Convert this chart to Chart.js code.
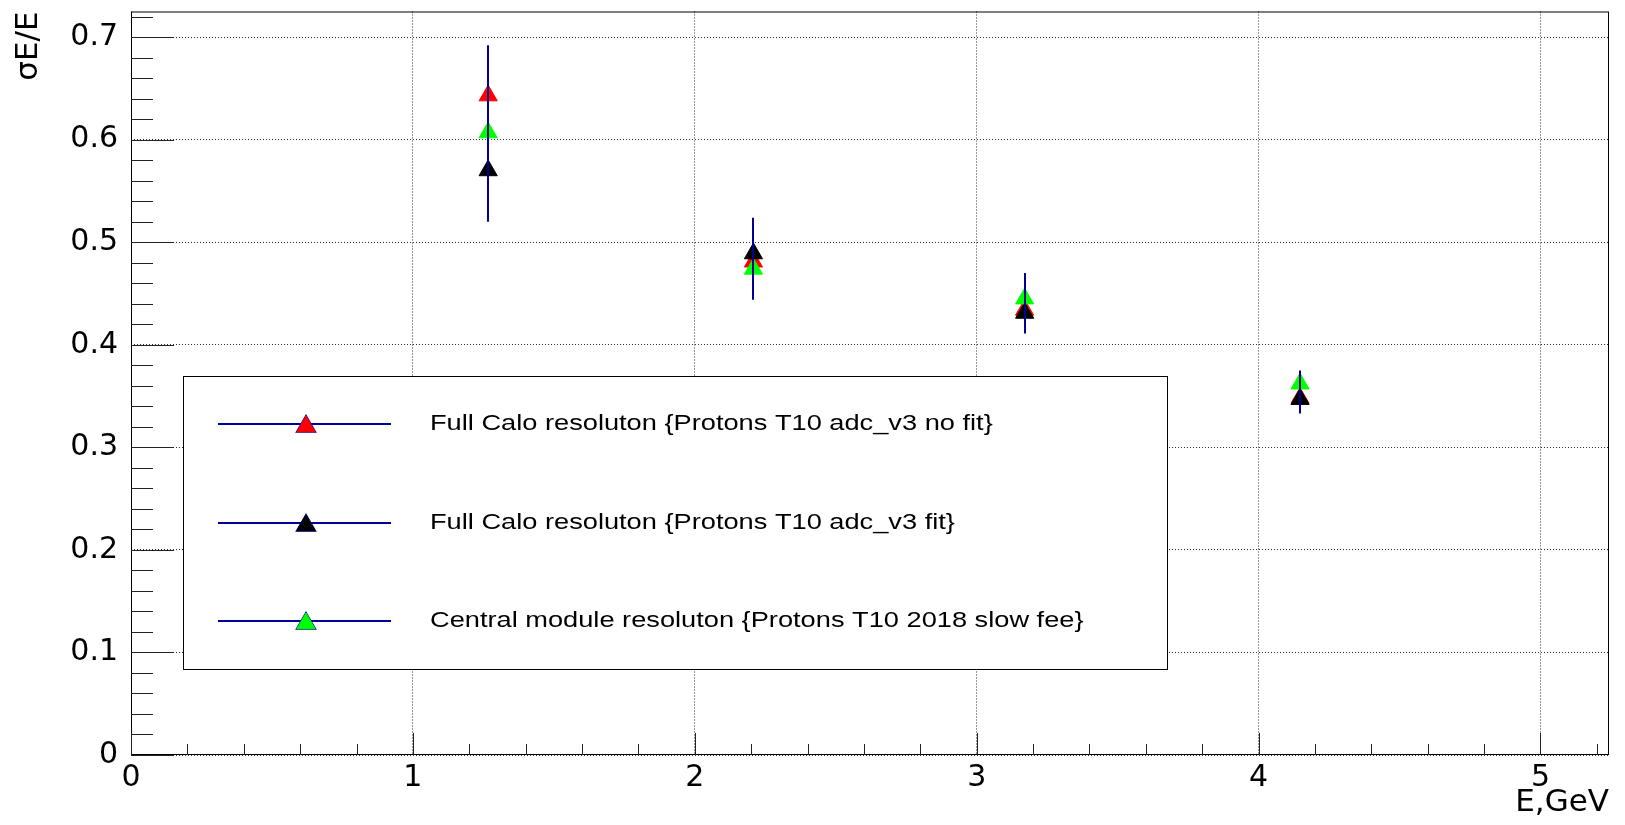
<!DOCTYPE html>
<html>
<head>
<meta charset="utf-8">
<script src="https://cdn.jsdelivr.net/npm/chart.js@4/dist/chart.umd.min.js"></script>
<style>
    html, body { margin: 0; padding: 0; background: #fff; }
    #wrap { width: 1625px; height: 825px; position: relative; }
</style>
</head>
<body>
<div id="wrap"><canvas id="resChart"></canvas></div>
<script>
// beam energies (GeV)
const energy = [1.267, 2.208, 3.17, 4.147];

// Full Calo, adc_v3, no fit
const noFitRes = [0.643, 0.481, 0.434, 0.348];
const noFitErr = [0.048, 0.012, 0.012, 0.006];

// Full Calo, adc_v3, fit
const fitRes = [0.570, 0.489, 0.431, 0.347];
const fitErr = [0.050, 0.035, 0.020, 0.014];

// Central module, 2018 slow fee
const centralRes = [0.607, 0.474, 0.445, 0.362];
const centralErr = [0.085, 0.030, 0.025, 0.013];

const seriesLabels = [
    'Full Calo resoluton {Protons T10 adc_v3 no fit}',
    'Full Calo resoluton {Protons T10 adc_v3 fit}',
    'Central module resoluton {Protons T10 2018 slow fee}'
];
const xTicks = [0, 1, 2, 3, 4, 5];
const yTicks = [0, 0.1, 0.2, 0.3, 0.4, 0.5, 0.6, 0.7];

const ERR_COLOR = '#000099';
const AXIS_FONT = '"DejaVu Sans", "Liberation Sans", Arial, sans-serif';
const LEG_FONT = '"Liberation Sans", Arial, Helvetica, sans-serif';
Chart.defaults.font.family = AXIS_FONT;
Chart.defaults.color = '#000';

function toPoints(xs, ys) {
    return xs.map((x, i) => ({ x: x, y: ys[i] }));
}

const seriesErrors = [noFitErr, fitErr, centralErr];

function makeSet(label, values, color, order) {
    return {
        label: label,
        data: toPoints(energy, values),
        pointStyle: 'triangle',
        pointRadius: 10.5,
        pointHoverRadius: 10.5,
        backgroundColor: color,
        borderColor: color,
        borderWidth: 1,
        showLine: false,
        order: order
    };
}

// ROOT style frame, inner ticks, error bars and legend
const frameTicks = {
    id: 'frameTicks',
    afterDatasetsDraw(chart) {
        const ctx = chart.ctx;
        const xs = chart.scales.x;
        const ys = chart.scales.y;
        const area = chart.chartArea;

        // error bars, drawn over markers
        ctx.save();
        ctx.strokeStyle = ERR_COLOR;
        ctx.lineWidth = 2;
        chart.data.datasets.forEach((ds, k) => {
            const errs = seriesErrors[k];
            ds.data.forEach((p, i) => {
                const px = Math.round(xs.getPixelForValue(p.x));
                ctx.beginPath();
                ctx.moveTo(px, ys.getPixelForValue(p.y + errs[i]));
                ctx.lineTo(px, ys.getPixelForValue(p.y - errs[i]));
                ctx.stroke();
            });
        });
        ctx.restore();

        // frame
        ctx.save();
        ctx.strokeStyle = '#000';
        ctx.lineWidth = 1;
        ctx.strokeRect(area.left + 0.5, area.top + 0.5, area.right - area.left - 1, area.bottom - area.top - 1);

        // x ticks: major every 1, minor every 0.2
        ctx.strokeStyle = '#222';
        ctx.beginPath();
        for (let i = 0; i <= 26; i++) {
            const v = i * 0.2;
            if (v > xs.max) break;
            const px = Math.round(xs.getPixelForValue(v)) + 0.5;
            const len = (i % 5 === 0) ? 22 : 11;
            ctx.moveTo(px, area.bottom);
            ctx.lineTo(px, area.bottom - len);
        }
        // y ticks: major every 0.1, minor every 0.02
        for (let i = 0; i <= 36; i++) {
            const v = i * 0.02;
            if (v > ys.max) break;
            const py = Math.round(ys.getPixelForValue(v)) + 0.5;
            const len = (i % 5 === 0) ? 43 : 22;
            ctx.moveTo(area.left, py);
            ctx.lineTo(area.left + len, py);
        }
        ctx.stroke();
        ctx.restore();

        // legend box
        const box = { left: 183, top: 376, right: 1167, bottom: 669 };
        const rows = [424, 523, 621];
        ctx.save();
        ctx.fillStyle = '#fff';
        ctx.fillRect(box.left, box.top, box.right - box.left, box.bottom - box.top);
        ctx.strokeStyle = '#000';
        ctx.lineWidth = 1;
        ctx.strokeRect(box.left + 0.5, box.top + 0.5, box.right - box.left, box.bottom - box.top);
        ctx.font = '22px ' + LEG_FONT;
        ctx.textBaseline = 'middle';
        chart.data.datasets.forEach((ds, k) => {
            const y = rows[k];
            ctx.strokeStyle = ERR_COLOR;
            ctx.lineWidth = 2;
            ctx.beginPath();
            ctx.moveTo(218, y);
            ctx.lineTo(391, y);
            ctx.stroke();
            Chart.helpers.drawPoint(ctx, {
                pointStyle: 'triangle',
                radius: 10.5,
                borderWidth: 1,
                rotation: 0
            }, 306, y + 2.5);
            ctx.fillStyle = ds.backgroundColor;
            ctx.strokeStyle = ds.borderColor;
            ctx.lineWidth = 1;
            ctx.fill();
            ctx.stroke();
            // the source picture is stretched sideways, so is its text
            ctx.save();
            ctx.translate(430, y);
            ctx.scale(1.237, 1);
            ctx.fillStyle = '#000';
            ctx.fillText(ds.label, 0, 0);
            ctx.restore();
        });
        ctx.restore();
    }
};

new Chart(document.getElementById('resChart'), {
    type: 'scatter',
    data: {
        datasets: [
            makeSet(seriesLabels[0], noFitRes, '#ff0000', 3),
            makeSet(seriesLabels[1], fitRes, '#000000', 2),
            makeSet(seriesLabels[2], centralRes, '#00ff00', 1)
        ]
    },
    options: {
        responsive: true,
        maintainAspectRatio: false,
        animation: false,
        layout: { padding: { top: 7, right: 16, left: 0, bottom: 0 } },
        plugins: {
            legend: { display: false },
            tooltip: { enabled: false }
        },
        scales: {
            x: {
                type: 'linear',
                min: 0,
                max: 5.243,
                afterFit: (s) => { s.height = 70; s.paddingLeft = 0; s.paddingRight = 0; },
                afterBuildTicks: (s) => { s.ticks = xTicks.map(v => ({ value: v })); },
                ticks: {
                    padding: 5,
                    font: { size: 30 },
                    callback: (v) => String(v)
                },
                grid: { color: '#333', drawTicks: false, lineWidth: 1 },
                border: { display: false, dash: [1, 2] },
                title: {
                    display: true,
                    text: 'E,GeV',
                    align: 'end',
                    font: { size: 31 },
                    padding: { top: 0, bottom: 3 }
                }
            },
            y: {
                type: 'linear',
                min: 0,
                max: 0.725,
                afterFit: (s) => { s.width = 131; s.paddingTop = 0; s.paddingBottom = 0; },
                afterBuildTicks: (s) => { s.ticks = yTicks.map(v => ({ value: v })); },
                ticks: {
                    padding: 13,
                    font: { size: 30 },
                    callback: (v) => String(v)
                },
                grid: { color: '#333', drawTicks: false, lineWidth: 1 },
                border: { display: false, dash: [1, 2] },
                title: {
                    display: true,
                    text: 'σE/E',
                    align: 'end',
                    font: { size: 31 },
                    padding: { top: 10, bottom: 0 }
                }
            }
        }
    },
    plugins: [frameTicks]
});
</script>
</body>
</html>
